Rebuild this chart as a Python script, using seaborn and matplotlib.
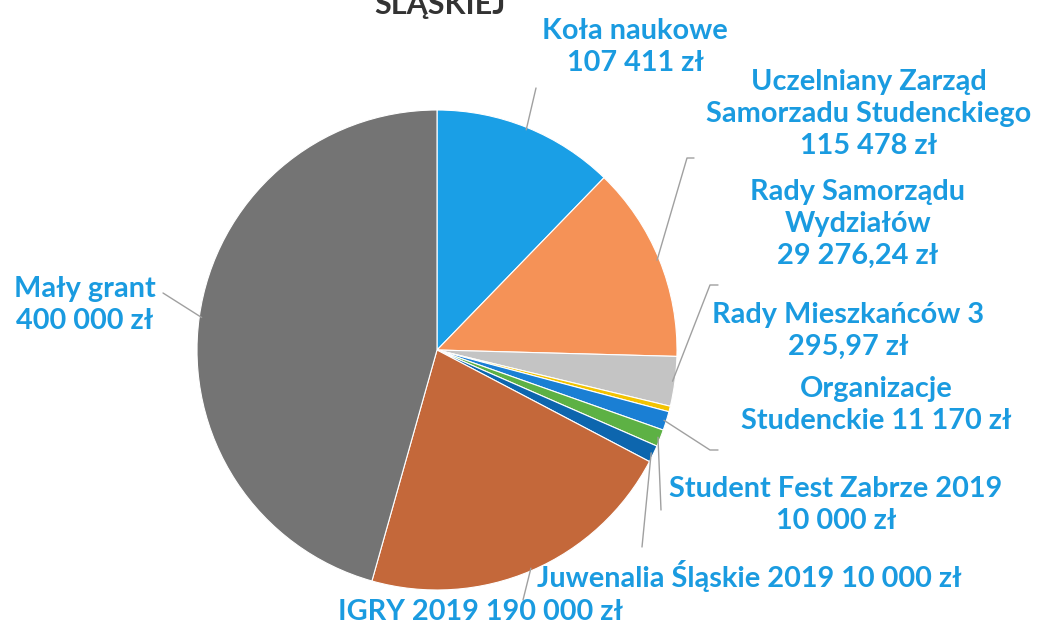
import matplotlib
matplotlib.use("Agg")
import matplotlib.pyplot as plt
import numpy as np
import seaborn as sns

# data
names = ["Koła naukowe", "Uczelniany Zarząd Samorzadu Studenckiego",
         "Rady Samorządu Wydziałów", "Rady Mieszkańców",
         "Organizacje Studenckie", "Student Fest Zabrze 2019",
         "Juwenalia Śląskie 2019", "IGRY 2019", "Mały grant"]
values = [107411, 115478, 29276.24, 3295.97, 11170, 10000, 10000, 190000, 400000]
labels = ["Koła naukowe\n107 411 zł",
          "Uczelniany Zarząd\nSamorzadu Studenckiego\n115 478 zł",
          "Rady Samorządu\nWydziałów\n29 276,24 zł",
          "Rady Mieszkańców 3\n295,97 zł",
          "Organizacje\nStudenckie 11 170 zł",
          "Student Fest Zabrze 2019\n10 000 zł",
          "Juwenalia Śląskie 2019 10 000 zł",
          "IGRY 2019 190 000 zł",
          "Mały grant\n400 000 zł"]
colors = ["#1A9FE6", "#F59257", "#C4C4C4", "#F2C300", "#1A7FD4",
          "#5DB144", "#0D66AE", "#C4683A", "#747474"]

sns.set_theme(style="white")
plt.rcParams['font.family'] = ['Lato', 'DejaVu Sans']

W, H = 1040, 629
CX, CY, R = 437, 350, 240   # pie centre / radius in pixels

def px(x, y):
    # pixel position -> data coords (pie radius = 1)
    return (x - CX) / R, (CY - y) / R

fig = plt.figure(figsize=(W / 100, H / 100), dpi=100)
ax = fig.add_axes([0, 0, 1, 1])
wedges, _ = ax.pie(values, colors=colors, startangle=90, counterclock=False,
                   wedgeprops=dict(edgecolor="white", linewidth=0.8))
ax.set_xlim(px(0, 0)[0], px(W, 0)[0])
ax.set_ylim(px(0, H)[1], px(0, 0)[1])
ax.set_aspect("equal")
ax.axis("off")

# label layout (pixel centres) and leader line bends
label_pos = [(635, 47), (869, 114), (858, 224), (848, 331), (876, 405),
             (836, 505), (749, 576), (481, 612), (85, 305)]
leaders = [[(536, 88)],
           [(687, 158), (694, 158)],
           [(710, 285), (718, 285)],
           None,
           [(710, 450), (718, 450)],
           [(661, 510)],
           [(642, 547)],
           [(523, 600)],
           [(163, 293)]]

text_col = "#1A9BE0"
for w, lab, pos, lead in zip(wedges, labels, label_pos, leaders):
    ax.text(*px(*pos), lab, ha="center", va="center", color=text_col,
            fontsize=20.8, fontweight="bold", linespacing=1.3)
    if lead:
        mid = np.deg2rad((w.theta1 + w.theta2) / 2)
        xs = [0.99 * np.cos(mid)] + [px(*p)[0] for p in lead]
        ys = [0.99 * np.sin(mid)] + [px(*p)[1] for p in lead]
        ax.plot(xs, ys, color="#A0A0A0", lw=1)

# title cut off at the top of the scan
ax.text(*px(440, 14), "ŚLĄSKIEJ", ha="center", va="baseline",
        color="#333333", fontsize=22, fontweight="bold")

fig.savefig("out.png", dpi=100)
